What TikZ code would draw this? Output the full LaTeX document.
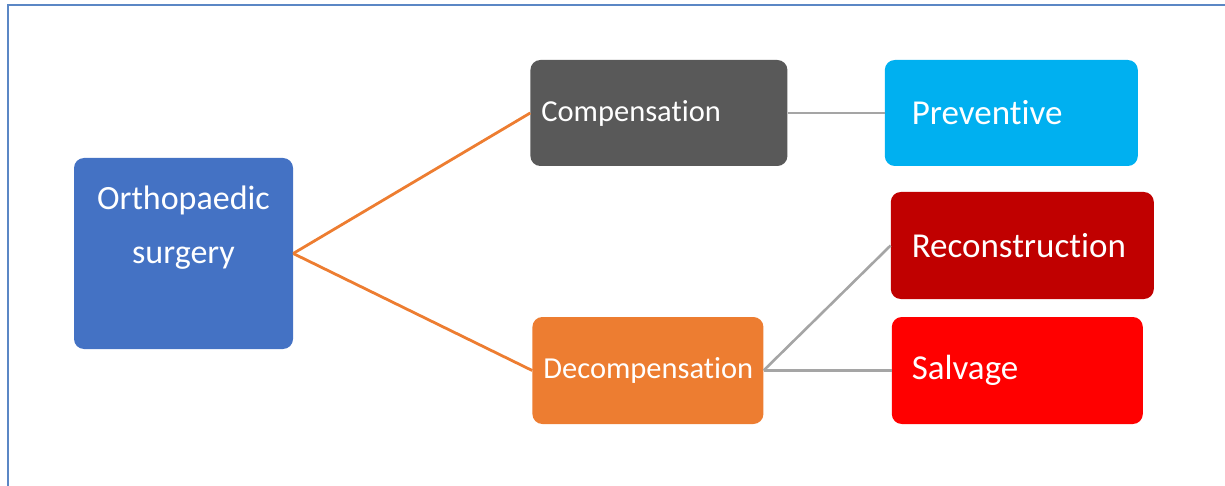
\documentclass[tikz,border=0pt]{standalone}
\usepackage{fontspec}
\setmainfont{Carlito}[Ligatures=NoCommon]
\usetikzlibrary{positioning}
\definecolor{rootblue}{HTML}{4472C4}
\definecolor{compgrey}{HTML}{595959}
\definecolor{prevblue}{HTML}{00B0F0}
\definecolor{recred}{HTML}{C00000}
\definecolor{decorange}{HTML}{ED7D31}
\definecolor{salvred}{HTML}{FF0000}
\definecolor{linkgrey}{HTML}{A5A5A5}
\definecolor{frameblue}{HTML}{5B87C5}

\begin{document}
\begin{tikzpicture}[
		box/.style={rounded corners=10pt, text=white, minimum height=106pt, inner ysep=0pt, align=left},
		small/.style={font=\fontsize{30.5}{36}\selectfont},
		large/.style={font=\fontsize{35}{42}\selectfont},
		trunk/.style={draw=decorange, line width=2.8pt},
		twig/.style={draw=linkgrey, line width=2.6pt}
	]
		\clip (0,0) rectangle (1225pt,-486pt);
		\draw[frameblue, line width=2pt] (8pt,-5pt) rectangle (1240pt,-500pt);

		\node(O)[box, fill=rootblue, minimum width=219pt, minimum height=191pt, align=center, text depth=57pt, font=\fontsize{34}{54}\selectfont] at (183.5pt,-253.5pt) {Orthopaedic\\surgery};
		\node(C)[box, small, fill=compgrey, inner xsep=11pt, text width=235pt, right=237pt of O.east, yshift=140.5pt]{Compensation};
		\node(D)[box, small, fill=decorange, inner xsep=11pt, text width=209pt, minimum height=107pt, right=239pt of O.east, yshift=-117pt]{Decompensation};
		\node(P)[box, large, fill=prevblue, inner xsep=27pt, text width=199pt, right=97pt of C]{Preventive};
		\node(R)[box, large, fill=recred, inner xsep=21pt, text width=221pt, minimum height=107pt, right=127pt of D, yshift=125pt]{Reconstruction};
		\node(S)[box, large, fill=salvred, inner xsep=20pt, text width=211pt, minimum height=107pt, right=128pt of D]{Salvage};

		\draw[trunk] (O.east) -- (C.west);
		\draw[trunk] (O.east) -- (D.west);
		\draw[twig] (C.east) -- (P.west);
		\draw[twig] (D.east) -- (R.west);
		\draw[twig] (D.east) -- (S.west);
	\end{tikzpicture}
\end{document}
